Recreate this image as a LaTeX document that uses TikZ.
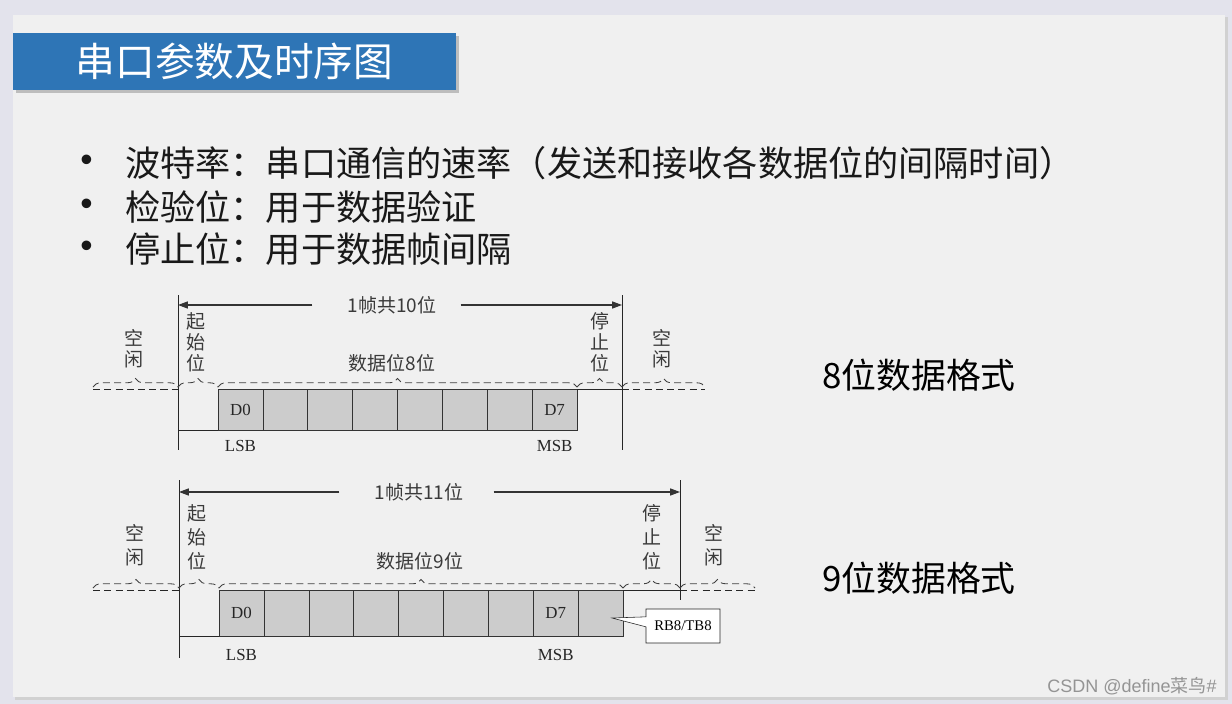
\documentclass[tikz,border=0pt]{standalone}
\usepackage{fontspec}
\setmainfont{Liberation Serif}
\newfontfamily\cjk{Noto Sans CJK SC}
\newfontfamily\wmfont{Liberation Sans}
\usetikzlibrary{arrows.meta,calc,positioning,shadows,shapes.callouts,decorations.pathreplacing}
\definecolor{outerbg}{HTML}{E3E3EC}
\definecolor{slidebg}{HTML}{F0F0F0}
\definecolor{titleblue}{HTML}{2E75B6}
\definecolor{cellgray}{HTML}{CCCCCC}
\definecolor{inkgray}{HTML}{3A3A3A}

\begin{document}
\begin{tikzpicture}[x=0.025cm,y=-0.025cm,
        title/.style={
            rectangle,
            fill=titleblue,
            text=white,
            minimum width=11.075cm,
            minimum height=1.425cm,
            drop shadow={shadow xshift=0.07cm,shadow yshift=-0.07cm,fill=black!45},
            font=\cjk\fontsize{28.2}{33}\selectfont},
        item/.style={
            anchor=west,
            inner sep=0pt,
            text=black!90,
            font=\cjk\fontsize{25}{29}\selectfont},
        dot/.style={
            anchor=west,
            inner sep=0pt,
            text=black!90,
            font=\wmfont\fontsize{25}{29}\selectfont},
        bit/.style={
            rectangle,
            anchor=north west,
            draw=black!80,
            fill=cellgray,
            inner sep=0pt,
            outer sep=0pt,
            minimum width=1.122cm},
        lbl/.style={
            inner sep=0pt,
            text=inkgray,
            font=\cjk\fontsize{13.5}{15}\selectfont},
        vlbl/.style={
            lbl,
            align=center,
            font=\cjk\fontsize{13.5}{#1}\selectfont},
        vlbl/.default=15,
        lat/.style={
            inner sep=0pt,
            text=black!85,
            font=\fontsize{12}{14}\selectfont},
        brc/.style={
            decorate,
            decoration={brace,amplitude=6pt},
            dash pattern=on 5pt off 3pt,
            draw=black!75,
            line width=0.6pt},
        sig/.style={draw=black!85,line width=0.7pt},
        idle/.style={sig,dash pattern=on 5pt off 3pt},
        len/.style={-{Triangle[length=7pt,width=5pt]},draw=black!80,line width=0.8pt},
        fmt/.style={
            inner sep=0pt,
            text=black,
            font=\cjk\fontsize{24.8}{29}\selectfont},
        tag/.style={
            rectangle callout,
            draw=black!85,
            fill=white,
            inner sep=0pt,
            minimum width=1.85cm,
            minimum height=0.85cm,
            callout pointer width=0.25cm,
            font=\fontsize{10.5}{12}\selectfont}]

    % slide background
    \useasboundingbox (0,0) rectangle (1232,704);
    \fill[outerbg] (0,0) rectangle (1232,704);
    \fill[black!18] (15,17) rectangle (1228,700);
    \fill[slidebg] (13,15) rectangle (1225,697);
    \node[title] (ttl) at (234.5,61.5) {串口参数及时序图};

    % bullet list
    \foreach \y/\txt [count=\i] in {163/波特率：串口通信的速率（发送和接收各数据位的间隔时间）,
                                    207/检验位：用于数据验证,
                                    249/停止位：用于数据帧间隔} {
        \node[dot] (dot\i) at (80,\y) {•};
        \node[item] (line\i) at (125,\y) {\txt};
    }

    % 8-bit frame
    \coordinate (aL) at (178,295);
    \coordinate (aR) at (622,295);
    \draw[sig] (aL) -- ++(0,155);
    \draw[sig] (aR) -- ++(0,155);
    \node[lbl] (fa) at (392,305) {1帧共10位};
    \draw[len] ([xshift=-0.875cm]fa.west) -- (fa -| aL);
    \draw[len] ([xshift=0.6cm]fa.east) -- (fa -| aR);
    \foreach \n in {0,...,7}
        \node[bit,minimum height=1.025cm] (a\n) at (218+44.875*\n,389) {};
    \node[lat] (a_d0) at (a0) {D0};
    \node[lat] (a_d7) at (a7) {D7};
    \node[lat] (a_lsb) at ([yshift=-0.4cm]a0.south) {LSB};
    \node[lat] (a_msb) at ([yshift=-0.4cm]a7.south) {MSB};
    \draw[idle] (93,389) -- (aL |- a0.north);
    \draw[sig] (aL |- a0.south) -- (a0.south west);
    \draw[sig] (a7.north east) -- (aR |- a7.north);
    \draw[idle] (aR |- a7.north) -- (705,389);
    \draw[brc] (93,387) -- (178,387);
    \draw[brc] (178,387) -- (218,387);
    \draw[brc] (218,387) -- (577,387);
    \draw[brc] (577,387) -- (622,387);
    \draw[brc] (622,387) -- (705,387);
    \node[vlbl] (a_idle1) at (134,349) {空\\闲};
    \node[vlbl] (a_start) at (196,342) {起\\始\\位};
    \node[lbl] (a_data) at (392,363) {数据位8位};
    \node[vlbl] (a_stop) at (600,342) {停\\止\\位};
    \node[vlbl] (a_idle2) at (662,349) {空\\闲};
    \node[fmt] (fmtA) at (919,375) {8位数据格式};

    % 9-bit frame
    \coordinate (bL) at (179,480);
    \coordinate (bR) at (680,480);
    \draw[sig] (bL) -- ++(0,178);
    \draw[sig] (bR) -- ++(0,120);
    \node[lbl] (fb) at (419,492) {1帧共11位};
    \draw[len] ([xshift=-0.875cm]fb.west) -- (fb -| bL);
    \draw[len] ([xshift=0.75cm]fb.east) -- (fb -| bR);
    \foreach \n in {0,...,8}
        \node[bit,minimum height=1.15cm] (b\n) at (219+44.9*\n,590) {};
    \node[lat] (b_d0) at (b0) {D0};
    \node[lat] (b_d7) at (b7) {D7};
    \node[lat] (b_lsb) at ([yshift=-0.475cm]b0.south) {LSB};
    \node[lat] (b_msb) at ([yshift=-0.475cm]b7.south) {MSB};
    \draw[idle] (93,590) -- (bL |- b0.north);
    \draw[sig] (bL |- b0.south) -- (b0.south west);
    \draw[sig] (b8.north east) -- (bR |- b8.north);
    \draw[idle] (bR |- b8.north) -- (755,590);
    \draw[brc] (93,588) -- (179,588);
    \draw[brc] (179,588) -- (219,588);
    \draw[brc] (219,588) -- (623,588);
    \draw[brc] (623,588) -- (680,588);
    \draw[brc] (680,588) -- (755,588);
    \node[vlbl=17] (b_idle1) at (135,545) {空\\闲};
    \node[vlbl=17] (b_start) at (197,537) {起\\始\\位};
    \node[lbl] (b_data) at (420,561) {数据位9位};
    \node[vlbl=17] (b_stop) at (652,537) {停\\止\\位};
    \node[vlbl=17] (b_idle2) at (714,545) {空\\闲};
    \node[fmt] (fmtB) at (919,578) {9位数据格式};
    \coordinate (ptr) at (612,618);
    \node[tag,callout absolute pointer={(ptr)}] (rbtb) at (683,626) {RB8/TB8};

    % watermark
    \node[anchor=east,inner sep=0pt,text=black!42,font=\fontsize{12.8}{15}\selectfont] (wm) at (1217,686)
        {{\wmfont CSDN @define}{\cjk 菜鸟}{\wmfont\#}};
\end{tikzpicture}
\end{document}
